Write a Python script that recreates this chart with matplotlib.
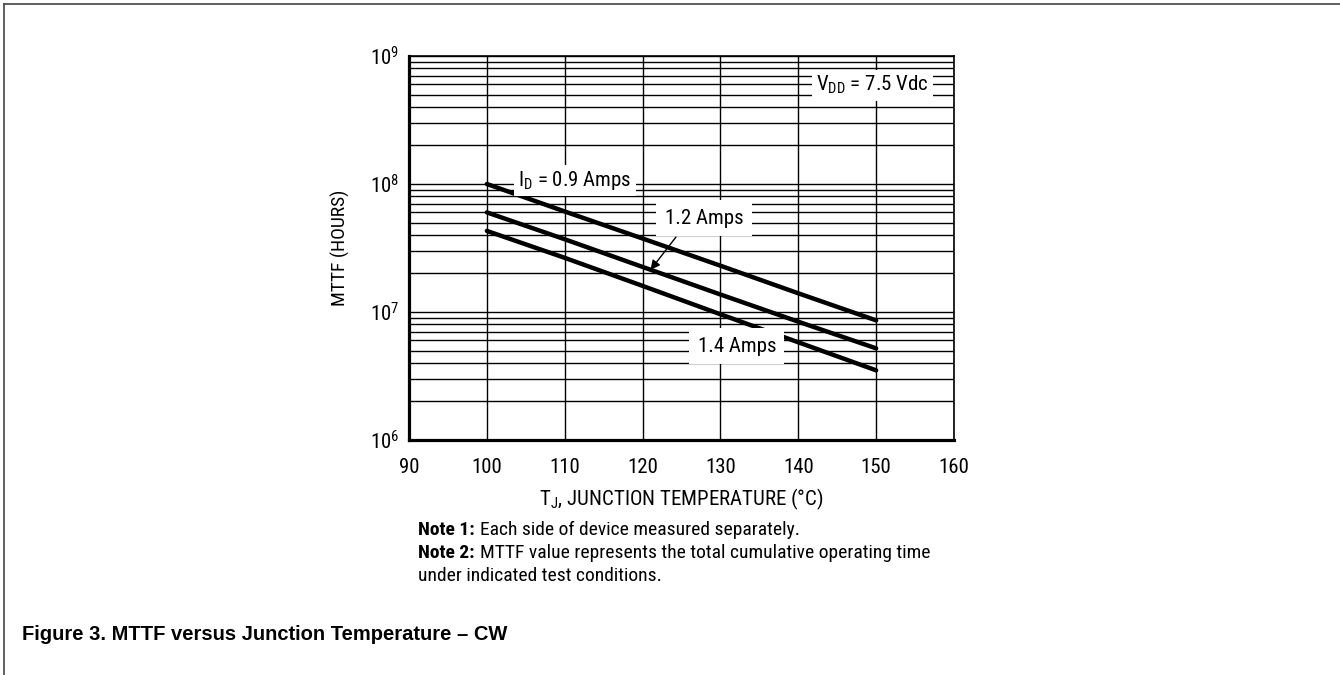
import matplotlib
matplotlib.use("Agg")
import matplotlib.pyplot as plt
from matplotlib import font_manager
from matplotlib.ticker import FixedLocator, FixedFormatter, NullLocator

# pick a Helvetica-like narrow face for the chart text
installed = {f.name for f in font_manager.fontManager.ttflist}
NARROW = next((n for n in ['Nimbus Sans Narrow', 'Liberation Sans Narrow', 'Arial Narrow',
                           'Roboto Condensed', 'Archivo Narrow'] if n in installed), 'DejaVu Sans')
REGULAR = next((n for n in ['Nimbus Sans', 'Liberation Sans', 'Arial'] if n in installed), 'DejaVu Sans')

plt.rcParams.update({
    'font.family': [NARROW, 'DejaVu Sans'],
    'mathtext.fontset': 'custom',
    'mathtext.rm': NARROW,
    'mathtext.it': NARROW + ':italic',
    'mathtext.bf': NARROW + ':bold',
})

# data
temps = [100, 110, 120, 130, 140, 150]
mttf_09 = [1.0e8, 6.1e7, 3.75e7, 2.3e7, 1.4e7, 8.6e6]
mttf_12 = [6.0e7, 3.7e7, 2.25e7, 1.37e7, 8.4e6, 5.2e6]
mttf_14 = [4.3e7, 2.65e7, 1.6e7, 9.6e6, 5.8e6, 3.5e6]

x_ticks = [90, 100, 110, 120, 130, 140, 150, 160]
y_decades = [1e6, 1e7, 1e8, 1e9]
y_labels = [r'$\mathregular{10^{6}}$', r'$\mathregular{10^{7}}$', r'$\mathregular{10^{8}}$', r'$\mathregular{10^{9}}$']

notes = [('Note 1:', 'Each side of device measured separately.'),
         ('Note 2:', 'MTTF value represents the total cumulative operating time'),
         ('', 'under indicated test conditions.')]

fig = plt.figure(figsize=(13.4, 6.75), dpi=100)
ax = fig.add_axes([409 / 1340, 1 - 440 / 675, 545 / 1340, 384 / 675])

ax.set_yscale('log')
ax.set_xlim(90, 160)
ax.set_ylim(1e6, 1e9)

# grid: vertical every 10 deg, horizontal at 1..9 of each decade
ax.xaxis.set_major_locator(FixedLocator(x_ticks))
ax.yaxis.set_major_locator(FixedLocator(y_decades))
ax.yaxis.set_major_formatter(FixedFormatter(y_labels))
minor = [m * 10.0 ** e for e in range(6, 9) for m in range(2, 10)]
ax.yaxis.set_minor_locator(FixedLocator(minor))
ax.xaxis.set_minor_locator(NullLocator())
ax.grid(True, which='major', axis='both', color='black', lw=1.0)
ax.grid(True, which='minor', axis='y', color='black', lw=1.0)
ax.set_axisbelow(True)
ax.tick_params(which='both', length=0)
ax.tick_params(axis='x', pad=13, labelsize=15)
ax.tick_params(axis='y', pad=7, labelsize=15)

for side in ['left', 'bottom']:
    ax.spines[side].set_linewidth(2.3)
for side in ['top', 'right']:
    ax.spines[side].set_linewidth(1.2)

for series in [mttf_09, mttf_12, mttf_14]:
    ax.plot(temps, series, color='black', lw=3.2, solid_capstyle='round', zorder=3)

box = dict(facecolor='white', edgecolor='none', pad=3)
ax.text(149.5, 5.9e8, r'V$_{\mathrm{DD}}$ = 7.5 Vdc', fontsize=15, ha='center', va='center', bbox=box, zorder=4)
ax.text(111.3, 1.07e8, r'I$_{\mathrm{D}}$ = 0.9 Amps', fontsize=15, ha='center', va='center', bbox=box, zorder=4)
ax.text(127.9, 5.4e7, '1.2 Amps', fontsize=15, ha='center', va='center',
        bbox=dict(facecolor='white', edgecolor='none', pad=6), zorder=4)
ax.text(132.1, 5.4e6, '1.4 Amps', fontsize=15, ha='center', va='center',
        bbox=dict(facecolor='white', edgecolor='none', pad=6), zorder=4)
ax.annotate('', xy=(120.8, 2.05e7), xytext=(124.5, 4.0e7),
            arrowprops=dict(arrowstyle='-|>', color='black', lw=1.0, mutation_scale=14), zorder=5)

ax.set_xlabel(r'T$_{\mathrm{J}}$, JUNCTION TEMPERATURE ($\degree$C)', fontsize=15, labelpad=7)
ax.set_ylabel('MTTF (HOURS)', fontsize=14, labelpad=14)

# notes under the chart: bold lead-in followed by plain text
fig.canvas.draw()
renderer = fig.canvas.get_renderer()
x0 = 418 / 1340
for i, (lead, body) in enumerate(notes):
    y = 1 - (530 + 23 * i) / 675
    x = x0
    if lead:
        t = fig.text(x0, y, lead, fontsize=14, fontweight='bold', va='center', ha='left')
        ext = t.get_window_extent(renderer)
        x = (ext.x1 + 5) / fig.bbox.width
    fig.text(x, y, body, fontsize=14, va='center', ha='left')

fig.text(22 / 1340, 1 - 634 / 675, 'Figure 3. MTTF versus Junction Temperature \u2013 CW',
         fontsize=14.5, fontweight='bold', family=REGULAR, va='center', ha='left')

# frame lines along top and left edge of the page
fig.add_artist(plt.Line2D([4 / 1340, 1], [1 - 4 / 675, 1 - 4 / 675], color='#444444', lw=1.2,
                          transform=fig.transFigure))
fig.add_artist(plt.Line2D([4 / 1340, 4 / 1340], [0, 1 - 4 / 675], color='#444444', lw=1.2,
                          transform=fig.transFigure))

fig.savefig('out.png', dpi=100)
